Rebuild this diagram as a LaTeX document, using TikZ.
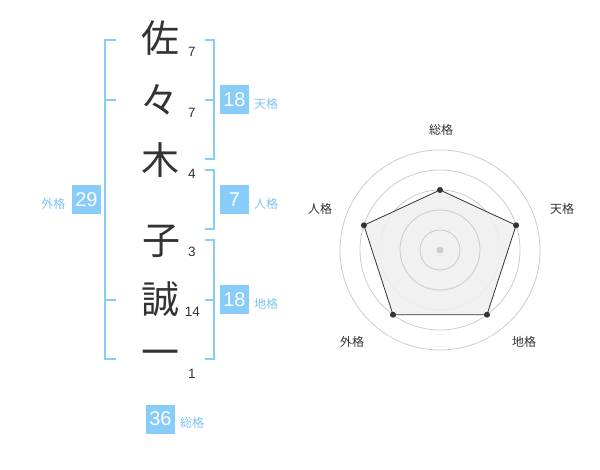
\documentclass[tikz,border=0pt]{standalone}
\usepackage{fontspec}
\setmainfont{Liberation Sans}
\newfontfamily\jp{Noto Sans CJK JP}
\definecolor{boxblue}{HTML}{88CCFA}
\definecolor{linkblue}{HTML}{88CCFA}
\definecolor{lblblue}{HTML}{7CC4F2}
\definecolor{ink}{HTML}{333333}
\definecolor{ring}{HTML}{CCCCCC}
\definecolor{area}{HTML}{EFEFEF}
\begin{document}
\begin{tikzpicture}[x=1pt,y=-1pt,
  kanji/.style={font=\jp\fontsize{38}{38}\selectfont, text=ink, inner sep=0pt},
  strokes/.style={font=\fontsize{13.5}{13.5}\selectfont, text=ink, inner sep=0pt},
  scorebox/.style={fill=boxblue, text=white, minimum width=29pt, minimum height=29pt, inner sep=0pt, font=\fontsize{20}{20}\selectfont},
  kaku/.style={font=\jp\fontsize{12}{12}\selectfont, text=lblblue, inner sep=0pt},
  bracket/.style={draw=linkblue, line width=2pt},
  ringline/.style={draw=ring, line width=0.8pt},
  radarlbl/.style={font=\jp\fontsize{12}{12}\selectfont, text=ink, inner sep=0pt},
  vdot/.style={circle, fill=ink, inner sep=0pt, minimum size=6pt}]
\useasboundingbox (0,0) rectangle (600,470);
% characters
\node[kanji] (c1) at (160,38) {佐};
\node[kanji] (c2) at (159,99.5) {々};
\node[kanji] (c3) at (160,160) {木};
\node[kanji] (c4) at (161,241) {子};
\node[kanji] (c5) at (160,299) {誠};
\node[kanji] (c6) at (160,358.3) {一};
% stroke counts
\node[strokes] (n1) at (192,52) {7};
\node[strokes] (n2) at (192,113) {7};
\node[strokes] (n3) at (192,173.5) {4};
\node[strokes] (n4) at (192,252) {3};
\node[strokes] (n5) at (192.5,312) {14};
\node[strokes] (n6) at (192,373.5) {1};
% brackets
\coordinate (gA) at (105,40);
\coordinate (gB) at (105,359);
\draw[bracket] (116,40) -- (gA) -- (gB) -- (116,359);
\draw[bracket] (105,100) -- (116,100);
\draw[bracket] (105,300) -- (116,300);
\draw[bracket] (205,40) -- (214,40) -- (214,159) -- (205,159);
\draw[bracket] (205,100) -- (214,100);
\draw[bracket] (205,170) -- (214,170) -- (214,229) -- (205,229);
\draw[bracket] (205,240) -- (214,240) -- (214,359) -- (205,359);
\draw[bracket] (205,300) -- (214,300);
% score boxes
\node[scorebox] (ten) at (234.5,100) {18};
\node[kaku, anchor=west] (tenl) at (254,103.5) {天格};
\node[scorebox] (jin) at (234.5,200) {7};
\node[kaku, anchor=west] (jinl) at (254,203.5) {人格};
\node[scorebox] (chi) at (234.5,300) {18};
\node[kaku, anchor=west] (chil) at (254,303.5) {地格};
\node[scorebox] (gai) at (86.5,200) {29};
\node[kaku, anchor=east] (gail) at (65.5,203.5) {外格};
\node[scorebox] (sou) at (160.5,419) {36};
\node[kaku, anchor=west] (soul) at (180,422.5) {総格};
% radar chart
\coordinate (ctr) at (440,250);
\foreach \r in {20,40,60,80,100} \draw[ringline] (ctr) circle[radius=\r];
\coordinate (p1) at (440,190);
\coordinate (p2) at (516.1,225.3);
\coordinate (p3) at (487.0,314.7);
\coordinate (p4) at (393.0,314.7);
\coordinate (p5) at (363.9,225.3);
\filldraw[fill=area, fill opacity=0.85, draw=ink, line width=0.8pt] (p1) -- (p2) -- (p3) -- (p4) -- (p5) -- cycle;
\foreach \r in {20,40} \draw[ringline] (ctr) circle[radius=\r];
\node[circle, fill=ring, inner sep=0pt, minimum size=7pt] (cdot) at (ctr) {};
\foreach \p in {p1,p2,p3,p4,p5} \node[vdot] at (\p) {};
\node[radarlbl] (rl1) at (441,130) {総格};
\node[radarlbl] (rl2) at (562,209) {天格};
\node[radarlbl] (rl3) at (524,342) {地格};
\node[radarlbl] (rl4) at (352,342) {外格};
\node[radarlbl] (rl5) at (320,209) {人格};
\end{tikzpicture}
\end{document}
